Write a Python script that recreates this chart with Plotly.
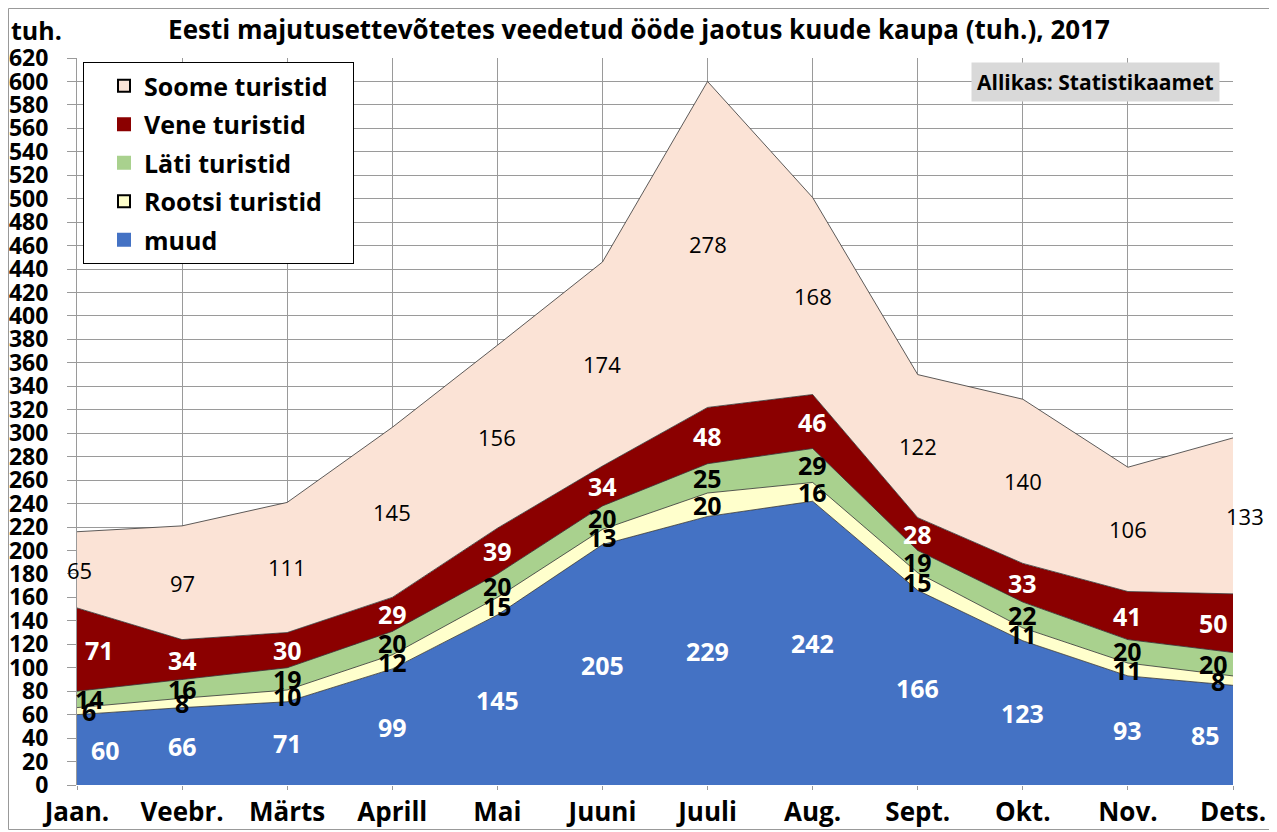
import plotly.graph_objects as go
import numpy as np

months = ["Jaan.", "Veebr.", "Märts", "Aprill", "Mai", "Juuni", "Juuli", "Aug.", "Sept.", "Okt.", "Nov.", "Dets."]
muud = [60, 66, 71, 99, 145, 205, 229, 242, 166, 123, 93, 85]
rootsi = [6, 8, 10, 12, 15, 13, 20, 16, 15, 11, 11, 8]
lati = [14, 16, 19, 20, 20, 20, 25, 29, 19, 22, 20, 20]
vene = [71, 34, 30, 29, 39, 34, 48, 46, 28, 33, 41, 50]
soome = [65, 97, 111, 145, 156, 174, 278, 168, 122, 140, 106, 133]

# name, values, fill, label colour, bold, label size, legend border, (first, last) label shift
series = [
    ("muud", muud, "#4472C4", "white", True, 25, None, (28, -28)),
    ("Rootsi turistid", rootsi, "#FFFFCC", "black", True, 25, "black", (12, -15)),
    ("Läti turistid", lati, "#A9D18E", "black", True, 25, None, (12, -20)),
    ("Vene turistid", vene, "#8B0000", "white", True, 25, None, (22, -20)),
    ("Soome turistid", soome, "#FBE3D6", "black", False, 22, "black", (2, 12)),
]

FONT = "Open Sans"
W, H = 1269, 824          # page body has an 8px margin
L, R, T, B = 69, 44, 50, 47
PW, PH = W - L - R, H - T - B

x = list(range(len(months)))
fig = go.Figure()
base = np.zeros(len(months))
annotations = []
for name, vals, color, tcolor, bold, fsize, border, shifts in series:
    v = np.array(vals, dtype=float)
    fig.add_trace(go.Scatter(
        x=x, y=vals, name=name, mode="lines", stackgroup="one",
        line=dict(color="#333333", width=0.8), fillcolor=color, showlegend=False,
    ))
    mids = base + v / 2
    for i in x:
        xs = 0
        if i == 0:
            xs = shifts[0]
        elif i == len(months) - 1:
            xs = shifts[1]
        txt = str(vals[i])
        annotations.append(dict(
            x=i, y=mids[i], text=f"<b>{txt}</b>" if bold else txt,
            showarrow=False, xshift=xs,
            font=dict(family=FONT, size=fsize, color=tcolor),
        ))
    base = base + v

# legend entries as filled squares (Soome first)
for k, (name, vals, color, tcolor, bold, fsize, border, shifts) in enumerate(reversed(series)):
    fig.add_trace(go.Scatter(
        x=[None], y=[None], name=f"<b>{name}</b>&nbsp;&nbsp;&nbsp;", mode="markers",
        legendgroup=f"g{k}",
        marker=dict(symbol="square", size=18, color=color,
                    line=dict(color=border if border else color, width=1)),
    ))

annotations.append(dict(
    xref="paper", yref="paper", x=(1212 - L) / PW, y=(H - B - 73.5) / PH,
    xanchor="right", yanchor="middle",
    text="<b>Allikas: Statistikaamet</b>", showarrow=False, bgcolor="#D9D9D9",
    font=dict(family=FONT, size=21, color="black"), borderpad=5,
))
annotations.append(dict(
    xref="paper", yref="paper", x=(1 - L) / PW, y=(H - B - 22) / PH, xanchor="left", yanchor="middle",
    text="<b>tuh.</b>", showarrow=False,
    font=dict(family=FONT, size=25, color="black"),
))

fig.update_layout(
    width=W, height=H,
    margin=dict(l=L, r=R, t=T, b=B, autoexpand=False),
    paper_bgcolor="white", plot_bgcolor="white",
    title=dict(text="<b>Eesti majutusettevõtetes veedetud ööde jaotus kuude kaupa (tuh.), 2017</b>",
               xref="container", yref="container",
               x=631 / W, xanchor="center", y=1 - 22 / H, yanchor="middle",
               font=dict(family=FONT, size=26, color="black")),
    showlegend=True,
    legend=dict(x=6 / PW, y=(H - B - 54) / PH, xanchor="left", yanchor="top", traceorder="grouped",
                tracegroupgap=3, indentation=20,
                bgcolor="white", bordercolor="black", borderwidth=1,
                font=dict(family=FONT, size=25, color="black"), itemsizing="constant"),
    annotations=annotations,
    xaxis=dict(range=[0, 11], tickmode="array", tickvals=x, ticktext=[f"<b>{m}</b>" for m in months],
               showgrid=True, gridcolor="#9a9a9a", gridwidth=1, zeroline=False, automargin=False,
               showline=False, ticks="outside", ticklen=4, tickcolor="#9a9a9a",
               tickfont=dict(family=FONT, size=26, color="black")),
    yaxis=dict(range=[0, 620], dtick=20, showgrid=True, gridcolor="#9a9a9a", gridwidth=1,
               zeroline=False, showline=True, linecolor="#9a9a9a", ticks="outside", ticklen=9,
               tickcolor="#9a9a9a", tickprefix="<b>", ticksuffix="</b>", automargin=False,
               ticklabelstandoff=14,
               tickfont=dict(family=FONT, size=23, color="black")),
    shapes=[dict(type="rect", xref="paper", yref="paper",
                 x0=(0.5 - L) / PW, x1=(W - 2.5 - L) / PW,
                 y0=(H - B - (H - 2.5)) / PH, y1=(H - B - 0.5) / PH,
                 line=dict(color="#999999", width=1), fillcolor="rgba(0,0,0,0)", layer="above")],
)
fig.write_html("out.html")
